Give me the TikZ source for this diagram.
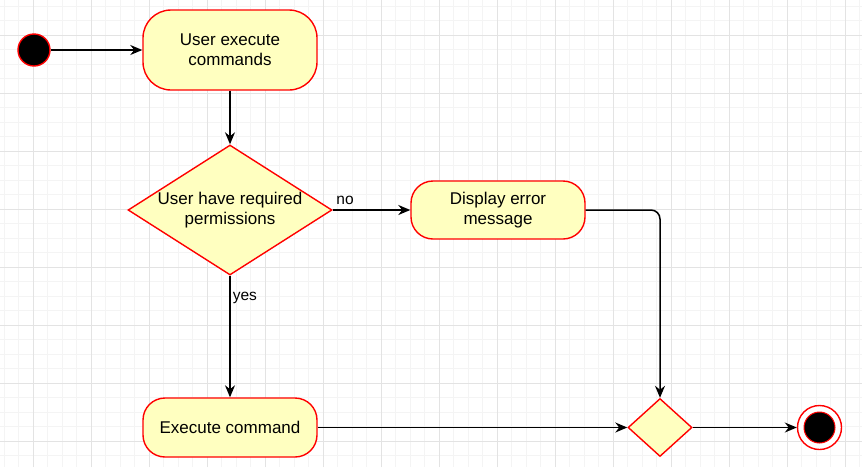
\documentclass[tikz,border=0pt]{standalone}
\usepackage{fontspec}
\setmainfont{Liberation Sans}
\usepackage{xcolor}
\usepackage{tikz}
\usetikzlibrary{arrows.meta,positioning,shapes.geometric}
\tikzset{>={Stealth[length=12pt,width=10pt]}}

\definecolor{actfill}{HTML}{FFFFC0}
\definecolor{actline}{HTML}{FF0000}
\definecolor{gridminor}{HTML}{F4F4F4}
\definecolor{gridmajor}{HTML}{E3E3E3}

\tikzset{
  activity/.style={draw=actline, fill=actfill, line width=1.4pt, align=center,
    minimum width=174pt, inner sep=0pt, font=\fontsize{17}{20}\selectfont},
  twoline/.style={execute at begin node={\rule{0pt}{19pt}}},
  decision/.style={draw=actline, fill=actfill, line width=1.4pt, diamond, align=center,
    inner sep=0pt, font=\fontsize{17}{20}\selectfont},
  initial/.style={circle, draw=actline, fill=black, line width=1.4pt, inner sep=0pt},
  flow/.style={->, line width=1.5pt},
  guard/.style={font=\fontsize{15.5}{18}\selectfont, inner sep=2pt}
}

\begin{document}
\begin{tikzpicture}
    \useasboundingbox (0,0) rectangle (862pt,-467pt);
    \fill[white] (0,0) rectangle (862pt,-467pt);

    % background grid
    \draw[gridminor, line width=0.7pt, step=14.5pt, shift={(33.3pt,-35.3pt)}]
        (-33.3pt,35.3pt) grid (828.7pt,-431.7pt);
    \draw[gridmajor, line width=0.9pt, step=58pt, shift={(33.3pt,-35.3pt)}]
        (-33.3pt,35.3pt) grid (828.7pt,-431.7pt);

    % nodes
    \node[initial, minimum size=32pt] (start) at (34pt,-50pt) {};
    \node[activity, twoline, minimum height=80pt, rounded corners=28pt] (exec) at (230pt,-50pt)
        {User execute\\commands};
    \node[decision, twoline, minimum width=204pt, minimum height=130pt, aspect=1.57] (perm)
        at (230pt,-210pt) {User have required\\permissions};
    \node[activity, twoline, minimum height=58pt, rounded corners=22pt] (err) at (498pt,-210pt)
        {Display error\\message};
    \node[activity, minimum height=59pt, rounded corners=22pt] (run) at (230pt,-427.5pt)
        {Execute command};
    \node[decision, minimum width=64pt, minimum height=58pt] (merge) at (660pt,-427.5pt) {};
    \node[circle, draw=actline, fill=white, line width=1.4pt, minimum size=44pt,
        inner sep=0pt] (endring) at (819.5pt,-427.5pt) {};
    \node[initial, minimum size=31pt, line width=1pt] (end) at (endring.center) {};

    % flows
    \draw[flow] (start) -- (exec);
    \draw[flow] (exec) -- (perm);
    \draw[flow] (perm.east) -- node[guard, anchor=south west, pos=0, xshift=1pt, yshift=3pt] {no} (err);
    \draw[flow] (perm.south) -- node[guard, anchor=north west, pos=0, yshift=-14pt] {yes} (run);
    \draw[flow, rounded corners=9pt] (err.east) -| (merge.north);
    \draw[flow] (run) -- (merge);
    \draw[flow] (merge) -- (endring);
\end{tikzpicture}
\end{document}
